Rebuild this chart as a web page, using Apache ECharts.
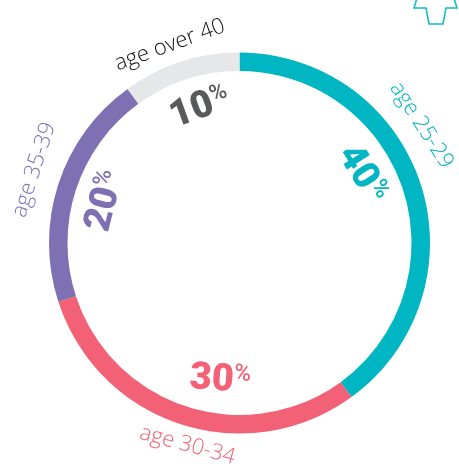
<!DOCTYPE html>
<html>
<head>
<meta charset="utf-8">
<script src="https://cdn.jsdelivr.net/npm/echarts@6/dist/echarts.min.js"></script>
<style>
html, body { margin: 0; padding: 0; background: #fff; }
#chart { width: 459px; height: 467px; }
</style>
</head>
<body>
<div id="chart"></div>
<script>
var categories = ['age 25-29', 'age 30-34', 'age 35-39', 'age over 40'];
var shares = [40, 30, 20, 10];

var ringColors = ['#00b6c3', '#f26175', '#7e70b3', '#e6e7e8'];
var nameColors = ['#00b6c3', '#f26175', '#7e70b3', '#111111'];
var shareColors = ['#00b6c3', '#f26175', '#7e70b3', '#58595b'];

// label turn and nudge per slice (the nudge is in the label's own rotated frame)
var nameRotate = [-57, -15, 72, 20];
var nameOffset = [[-54, -14], [13, -1], [6, -8], [-5, 0]];
var shareRotate = [-58, -4, 76, 20];
var shareOffset = [[-29, 4], [26, -5], [-2, 8], [4, 8]];

var myChart = echarts.init(document.getElementById('chart'));

function baseData() {
    return categories.map(function (name, i) {
        return { name: name, value: shares[i] };
    });
}

var nameData = baseData().map(function (d, i) {
    d.label = { rotate: nameRotate[i], color: nameColors[i], offset: nameOffset[i] };
    return d;
});

var shareData = baseData().map(function (d, i) {
    d.label = {
        rotate: shareRotate[i],
        offset: shareOffset[i],
        rich: {
            n: { fontSize: 38, fontWeight: 900, color: shareColors[i], fontFamily: 'Roboto' },
            p: { fontSize: 23, fontWeight: 500, color: shareColors[i], fontFamily: 'Roboto', verticalAlign: 'top', padding: [0, 0, 10, 0] }
        }
    };
    return d;
});

option = {
    animation: false,
    backgroundColor: '#fff',
    series: [
        {
            type: 'pie',
            center: [239.5, 243],
            radius: [172, 190.5],
            startAngle: 90,
            silent: true,
            label: { show: false },
            labelLine: { show: false },
            data: baseData().map(function (d, i) {
                d.itemStyle = { color: ringColors[i] };
                return d;
            })
        },
        {
            type: 'pie',
            center: [239.5, 243],
            radius: [206, 208],
            startAngle: 90,
            silent: true,
            avoidLabelOverlap: false,
            itemStyle: { color: 'transparent' },
            label: {
                show: true,
                position: 'inside',
                fontFamily: 'Open Sans',
                fontWeight: 300,
                fontSize: 22,
                formatter: '{b}'
            },
            labelLine: { show: false },
            data: nameData
        },
        {
            type: 'pie',
            center: [239.5, 243],
            radius: [144, 146],
            startAngle: 90,
            silent: true,
            avoidLabelOverlap: false,
            itemStyle: { color: 'transparent' },
            label: {
                show: true,
                position: 'inside',
                formatter: function (p) {
                    return '{n|' + p.value + '}{p|%}';
                }
            },
            labelLine: { show: false },
            data: shareData
        }
    ],
    graphic: [
        {
            type: 'polyline',
            silent: true,
            shape: { points: [[417, -2], [414, 8], [426, 8], [429, 24], [443, 24], [446, 8], [457, 8], [454, -2]] },
            style: { fill: 'none', stroke: '#12bccb', lineWidth: 1.6 }
        }
    ]
};
myChart.setOption(option);
</script>
</body>
</html>
